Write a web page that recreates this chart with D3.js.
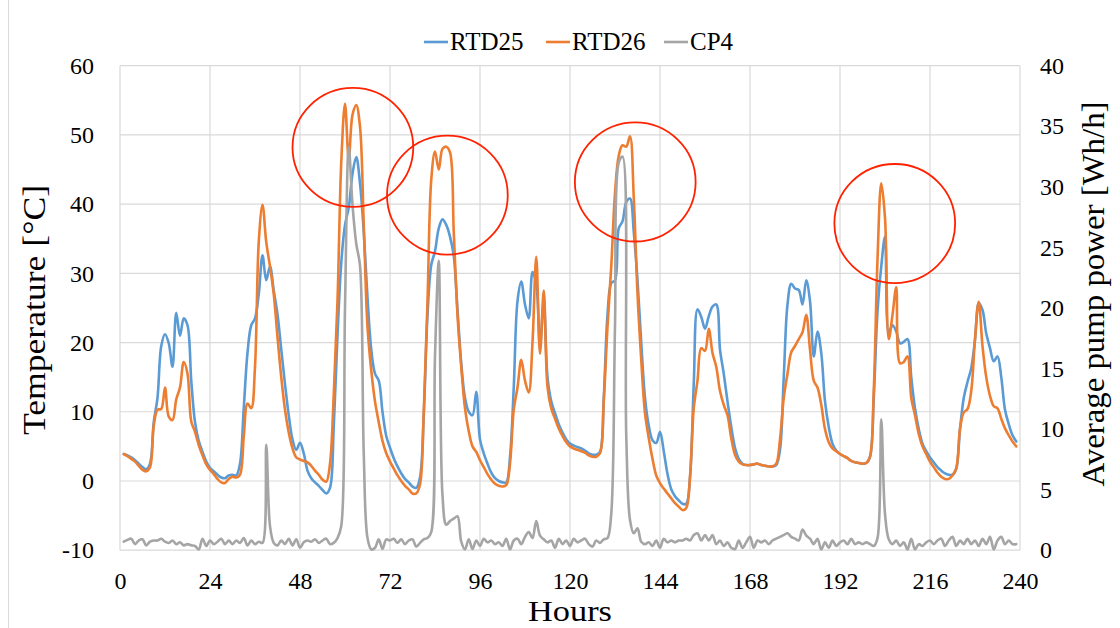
<!DOCTYPE html>
<html>
<head>
<meta charset="utf-8">
<script src="https://cdn.jsdelivr.net/npm/d3@7"></script>
<style>
  html, body { margin: 0; padding: 0; background: #fff; }
  svg { display: block; }
</style>
</head>
<body>
<svg id="chart" width="1120" height="628"></svg>
<script>
// Hourly samples over ten days
const hours = d3.range(1, 240);

// Storage temperature sensors [°C]
const rtd25 = [
  3.9, 3.7, 3.4, 3.0, 2.5, 2.0, 1.7, 2.5, 8.5, 12.0,
  19.5, 21.2, 19.9, 16.5, 24.3, 21.0, 23.5, 22.5, 14.5, 8.5,
  5.8, 4.2, 2.8, 1.9, 1.4, 0.9, 0.5, 0.4, 0.8, 0.9,
  0.8, 2.5, 10.5, 18.5, 22.5, 23.5, 27.0, 32.6, 29.0, 31.0,
  27.5, 24.1, 19.0, 14.0, 9.5, 6.0, 4.5, 5.5, 4.0, 1.5,
  0.4, -0.2, -0.7, -1.3, -1.8, -1.0, 7.8, 21.0, 31.5, 37.0,
  39.5, 44.4, 46.8, 43.0, 36.0, 26.5, 19.0, 15.5, 14.5, 10.0,
  6.5, 4.8, 3.3, 2.1, 1.1, 0.3, -0.2, -0.8, -1.0, 0.5,
  9.5, 24.0, 31.2, 33.2, 36.5, 37.8, 37.0, 35.3, 32.5, 24.7,
  17.0, 12.0, 10.0, 9.5, 12.9, 6.0, 4.0, 2.5, 1.2, 0.4,
  0.0, -0.2, -0.2, 3.5, 13.5, 26.0, 28.8, 25.5, 23.5, 30.2,
  28.5, 19.5, 26.0, 15.0, 11.5, 9.8, 8.2, 7.0, 6.0, 5.4,
  5.1, 4.9, 4.7, 4.4, 4.0, 3.8, 3.8, 4.2, 12.0, 24.0,
  28.6, 29.0, 36.5, 37.5, 40.3, 40.8, 36.0, 29.0, 20.0, 12.0,
  8.0, 5.9, 5.5, 7.1, 4.3, 1.0, -1.2, -2.2, -2.8, -3.3,
  -3.3, 0.5, 14.0, 24.8, 23.7, 22.0, 23.8, 25.2, 25.5, 19.0,
  15.5, 11.5, 7.8, 4.8, 3.2, 2.5, 2.3, 2.3, 2.4, 2.5,
  2.3, 2.2, 2.1, 2.1, 2.3, 4.5, 15.0, 25.5, 28.5, 27.8,
  27.6, 25.5, 29.0, 26.0, 18.0, 21.6, 18.5, 11.5, 7.8, 5.4,
  4.4, 3.9, 3.6, 3.3, 2.9, 2.7, 2.6, 2.5, 2.6, 3.5,
  12.0, 24.5, 31.0, 35.3, 21.5, 22.5, 21.6, 19.9, 20.1, 20.5,
  15.0, 10.5, 7.5, 5.4, 4.3, 3.4, 2.7, 2.0, 1.5, 1.1,
  0.9, 0.9, 1.8, 7.5, 12.0, 14.3, 16.3, 20.4, 25.7, 24.7,
  21.3, 19.2, 17.3, 18.0, 15.0, 10.3, 8.2, 6.6, 5.7
];

const rtd26 = [
  3.9, 3.6, 3.2, 2.8, 2.2, 1.6, 1.4, 2.0, 8.0, 10.3,
  10.4, 13.5, 9.3, 8.8, 11.8, 13.5, 17.2, 15.5, 8.6, 7.1,
  5.2, 3.7, 2.4, 1.6, 1.0, 0.3, -0.2, -0.3, 0.3, 0.6,
  0.5, 0.9, 6.4, 11.2, 10.5, 16.5, 34.5, 39.9, 34.5, 31.0,
  27.0, 20.8, 15.0, 10.3, 7.0, 4.7, 3.4, 3.1, 2.9, 2.7,
  2.2, 1.5, 0.9, 0.2, -0.1, 2.5, 12.5, 26.0, 46.0, 54.5,
  46.5, 52.9, 54.3, 51.2, 37.0, 22.3, 16.0, 11.5, 8.5, 5.8,
  4.0, 2.8, 1.8, 0.8, 0.0, -0.7, -1.2, -1.8, -1.8, -0.5,
  10.0, 26.0, 43.5, 47.6, 45.0, 48.0, 48.3, 47.5, 36.0, 24.0,
  16.5, 10.5, 7.2, 5.0, 4.2, 3.0, 2.0, 1.0, 0.2, -0.4,
  -0.7, -0.8, -0.6, 2.5, 10.3, 13.5, 17.5, 14.5, 12.8, 20.0,
  32.4, 18.4, 27.5, 13.6, 10.5, 9.0, 7.6, 6.5, 5.6, 5.0,
  4.7, 4.5, 4.3, 4.1, 3.7, 3.5, 3.5, 4.0, 11.5, 22.3,
  31.0, 41.6, 47.0, 48.5, 48.3, 49.8, 41.0, 27.1, 17.5, 9.8,
  6.2, 3.2, 0.8, -0.3, -1.1, -1.8, -2.5, -3.2, -3.7, -4.2,
  -3.9, 0.6, 10.5, 14.5, 19.2, 18.8, 22.0, 18.5, 16.5, 13.0,
  11.0, 9.5, 6.2, 3.8, 2.8, 2.4, 2.3, 2.3, 2.4, 2.5,
  2.3, 2.2, 2.1, 2.1, 2.5, 6.0, 12.0, 15.5, 18.6, 19.5,
  20.5, 21.5, 24.0, 19.0, 14.5, 13.5, 11.0, 7.5, 5.6, 4.7,
  4.3, 3.9, 3.6, 3.3, 2.9, 2.7, 2.6, 2.5, 2.6, 3.5,
  13.0, 32.0, 43.0, 38.0, 20.5, 24.0, 28.0, 17.0, 17.2, 18.0,
  12.0, 9.5, 6.8, 5.0, 3.9, 2.8, 2.0, 1.2, 0.6, 0.3,
  0.3, 0.8, 1.8, 7.5, 9.9, 10.4, 13.0, 20.5, 25.9, 19.5,
  15.0, 12.3, 10.8, 10.5, 9.0, 7.6, 6.6, 5.7, 5.0
];

// Circulation pump CP4, average power [Wh/h]
const cp4 = [
  0.7, 0.85, 0.95, 0.5, 0.8, 0.9, 0.4, 0.7, 0.8, 0.8,
  0.95, 0.7, 0.6, 0.8, 0.5, 0.65, 0.4, 0.5, 0.4, 0.35,
  0.06, 0.95, 0.35, 0.8, 0.5, 0.7, 0.95, 0.5, 0.8, 0.5,
  0.8, 0.6, 1.0, 0.4, 0.8, 0.5, 0.7, 0.6, 8.7, 2.0,
  0.6, 0.4, 0.8, 0.5, 0.95, 0.4, 0.9, 0.2, 0.65, 0.8,
  0.7, 0.9, 0.6, 0.8, 0.95, 0.5, 0.6, 1.0, 2.0, 20.0,
  33.3, 28.5, 25.3, 23.5, 8.0, 1.0, 0.06, 0.2, 0.9, 0.1,
  0.9, 0.8, 0.95, 0.6, 0.9, 0.5, 0.8, 0.9, 0.3, 0.6,
  0.9, 1.0, 1.5, 16.0, 23.9, 4.5, 2.1, 2.4, 2.6, 2.8,
  0.7, 0.06, 0.9, 0.1, 0.8, 0.35, 0.95, 0.65, 0.8, 0.5,
  0.65, 0.35, 0.95, 0.06, 0.8, 0.95, 0.5, 1.1, 1.5, 1.0,
  2.4, 1.2, 0.9, 0.65, 0.8, 0.2, 0.95, 0.5, 0.8, 0.35,
  0.95, 0.65, 0.8, 0.95, 0.5, 0.3, 0.8, 0.6, 0.9, 1.0,
  3.0, 18.5, 32.0, 32.5, 9.5, 2.5, 1.4, 1.8, 0.7, 0.5,
  0.65, 0.35, 0.8, 0.2, 0.95, 0.65, 0.8, 0.65, 0.8, 0.8,
  0.95, 0.8, 1.25, 1.4, 0.8, 1.25, 0.8, 1.25, 0.5, 0.8,
  0.35, 0.65, 0.2, 0.1, 0.8, 0.2, 0.65, 1.1, 0.2, 0.8,
  0.65, 0.8, 0.5, 0.8, 0.95, 1.1, 1.25, 1.4, 1.1, 0.95,
  0.8, 1.7, 1.2, 0.95, 0.5, 0.95, 0.06, 0.65, 0.2, 0.8,
  0.35, 0.65, 0.8, 0.5, 0.95, 0.5, 0.65, 0.5, 0.65, 0.5,
  0.35, 1.0, 10.8, 3.0, 0.9, 0.5, 0.8, 0.35, 0.65, 0.06,
  0.95, 0.06, 0.5, 0.35, 0.65, 0.8, 0.5, 0.8, 0.95, 0.35,
  0.8, 1.1, 0.35, 0.8, 0.5, 0.95, 0.5, 0.8, 0.35, 0.95,
  0.5, 1.1, 0.06, 0.8, 1.1, 0.5, 0.8, 0.5, 0.5
];

// Axis ticks
const hourTicks = [0, 24, 48, 72, 96, 120, 144, 168, 192, 216, 240];
const tempTicks = [-10, 0, 10, 20, 30, 40, 50, 60];
const powerTicks = [0, 5, 10, 15, 20, 25, 30, 35, 40];

// Highlighted overheating events: centres in hours / °C, radii in hours / °C
const highlightHours = [62.1, 87.3, 137.4, 206.6];
const highlightTemps = [48.2, 41.3, 43.2, 37.2];
const highlightRadiusHours = 16.1;
const highlightRadiusTemp = 8.6;

const seriesNames = ["RTD25", "RTD26", "CP4"];
const seriesColors = ["#5b9bd5", "#ed7d31", "#a5a5a5"];

const FONT = '"Liberation Serif", "Times New Roman", serif';

const svg = d3.select("#chart");
const plot = { left: 120, right: 1020, top: 65.7, bottom: 550.2 };

const x = d3.scaleLinear().domain([0, 240]).range([plot.left, plot.right]);
const yT = d3.scaleLinear().domain([-10, 60]).range([plot.bottom, plot.top]);
const yP = d3.scaleLinear().domain([0, 40]).range([plot.bottom, plot.top]);

// chart area edge
svg.append("line")
  .attr("x1", 8.5).attr("x2", 8.5).attr("y1", 0).attr("y2", 628)
  .attr("stroke", "#d9d9d9").attr("stroke-width", 1);

// Gridlines
const grid = svg.append("g").attr("stroke", "#d9d9d9").attr("stroke-width", 1.2);
grid.selectAll("line.h").data(tempTicks).join("line")
  .attr("class", "h")
  .attr("x1", plot.left).attr("x2", plot.right)
  .attr("y1", d => yT(d)).attr("y2", d => yT(d));
grid.selectAll("line.v").data(hourTicks).join("line")
  .attr("class", "v")
  .attr("y1", plot.top).attr("y2", plot.bottom)
  .attr("x1", d => x(d)).attr("x2", d => x(d));

// Axes (labels only)
const tickFont = 24;
const plain = d => String(d);
function styleAxis(g) {
  g.select(".domain").remove();
  g.selectAll(".tick line").remove();
  g.attr("font-family", null).attr("font-size", null);
  g.selectAll("text")
    .style("font-family", FONT).style("font-size", tickFont + "px").attr("fill", "#000");
}
svg.append("g").attr("transform", `translate(${plot.left},0)`)
  .call(d3.axisLeft(yT).tickValues(tempTicks).tickSize(0).tickPadding(26).tickFormat(plain))
  .call(styleAxis);
svg.append("g").attr("transform", `translate(${plot.right},0)`)
  .call(d3.axisRight(yP).tickValues(powerTicks).tickSize(0).tickPadding(20).tickFormat(plain))
  .call(styleAxis);
svg.append("g").attr("transform", `translate(0,${plot.bottom})`)
  .call(d3.axisBottom(x).tickValues(hourTicks).tickSize(0).tickPadding(22).tickFormat(plain))
  .call(styleAxis);

// Axis titles
function title(sel, txt, len, size) {
  sel.attr("text-anchor", "middle")
    .style("font-family", FONT).style("font-size", size + "px")
    .attr("textLength", len).attr("lengthAdjust", "spacingAndGlyphs")
    .attr("fill", "#000")
    .text(txt);
}
svg.append("text")
  .attr("x", (plot.left + plot.right) / 2).attr("y", 621)
  .call(title, "Hours", 84, 29);
svg.append("text")
  .attr("transform", `translate(45,310) rotate(-90)`)
  .call(title, "Temperature [°C]", 250, 32);
svg.append("text")
  .attr("transform", `translate(1104,294) rotate(-90)`)
  .call(title, "Average pump power [Wh/h]", 385, 32);

// Series lines
const curve = d3.curveCatmullRom.alpha(0.5);
const lineT = d3.line().x((d, i) => x(hours[i])).y(d => yT(d)).curve(curve);
const lineP = d3.line().x((d, i) => x(hours[i])).y(d => yP(d)).curve(curve);

const lines = svg.append("g").attr("fill", "none")
  .attr("stroke-width", 2.6).attr("stroke-linejoin", "round").attr("stroke-linecap", "round");
lines.append("path").attr("d", lineT(rtd25)).attr("stroke", seriesColors[0]);
lines.append("path").attr("d", lineT(rtd26)).attr("stroke", seriesColors[1]);
lines.append("path").attr("d", lineP(cp4)).attr("stroke", seriesColors[2]);

// Highlight rings
const kx = x(1) - x(0), ky = yT(0) - yT(1);
svg.append("g").selectAll("ellipse").data(highlightHours).join("ellipse")
  .attr("cx", d => x(d))
  .attr("cy", (d, i) => yT(highlightTemps[i]))
  .attr("rx", highlightRadiusHours * kx)
  .attr("ry", highlightRadiusTemp * ky)
  .attr("fill", "none").attr("stroke", "#ff2200").attr("stroke-width", 1.8);

// Legend
const legendX = [424, 546, 664];
const legend = svg.append("g");
seriesNames.forEach((name, i) => {
  legend.append("line")
    .attr("x1", legendX[i]).attr("x2", legendX[i] + 24)
    .attr("y1", 42).attr("y2", 42)
    .attr("stroke", seriesColors[i]).attr("stroke-width", 2.6);
  legend.append("text")
    .attr("x", legendX[i] + 26).attr("y", 50)
    .style("font-family", FONT).style("font-size", "25px")
    .attr("fill", "#000")
    .text(name);
});
</script>
</body>
</html>
